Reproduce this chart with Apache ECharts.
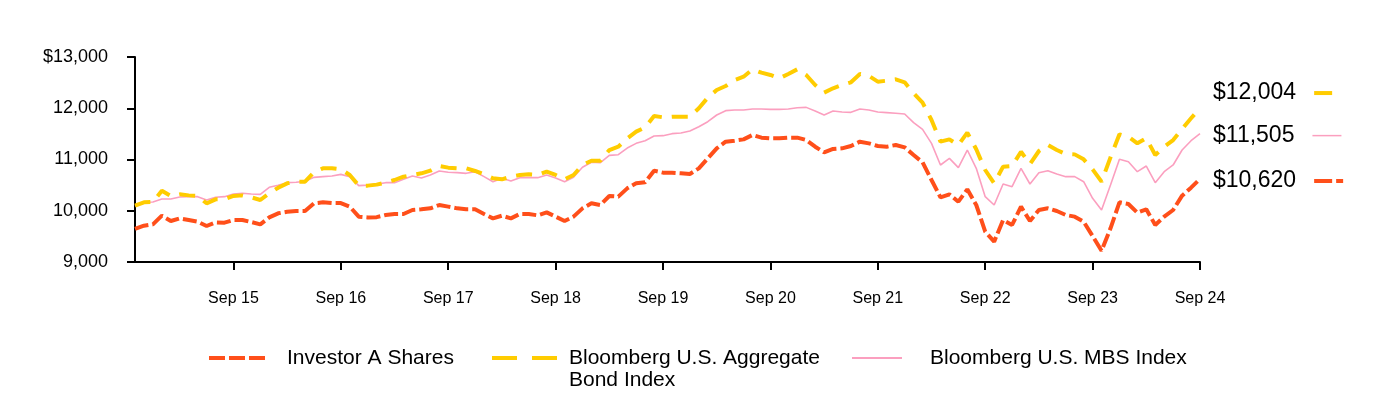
<!DOCTYPE html>
<html>
<head>
<meta charset="utf-8">
<script src="https://cdn.jsdelivr.net/npm/echarts@6/dist/echarts.min.js"></script>
<style>
html,body{margin:0;padding:0;background:#fff;}
#chart{width:1384px;height:400px;}
</style>
</head>
<body>
<div id="chart"></div>
<script>
// ---------- DATA ----------
const monthNames = ['Jan','Feb','Mar','Apr','May','Jun','Jul','Aug','Sep','Oct','Nov','Dec'];
// monthly categories Oct 2014 .. Sep 2024
const categories = [];
for (let y = 2014; y <= 2024; y++) {
  for (let m = 0; m < 12; m++) {
    if ((y === 2014 && m < 9) || (y === 2024 && m > 8)) continue;
    categories.push(monthNames[m] + ' ' + String(y).slice(2));
  }
}
const seriesNames = ['Investor A Shares', 'Bloomberg U.S. Aggregate Bond Index', 'Bloomberg U.S. MBS Index'];

const investorA = [
  9644, 9708, 9735, 9904, 9800, 9852, 9820, 9787, 9702, 9774, 9767, 9820,
  9820, 9780, 9735, 9870, 9950, 9980, 9995, 9995, 10145, 10165, 10150, 10150,
  10080, 9885, 9870, 9875, 9917, 9937, 9937, 10015, 10028, 10047, 10112, 10080,
  10047, 10028, 10028, 9937, 9852, 9904, 9852, 9937, 9937, 9910, 9969, 9885,
  9800, 9885, 10047, 10145, 10112, 10288, 10275, 10437, 10535, 10555, 10782, 10743,
  10743, 10730, 10717, 10828, 11023, 11218, 11348, 11367, 11393, 11478, 11426, 11413,
  11413, 11426, 11426, 11380, 11250, 11140, 11205, 11218, 11263, 11348, 11315, 11263,
  11250, 11283, 11237, 11088, 10945, 10600, 10262, 10320, 10177, 10418, 10112, 9592,
  9397, 9820, 9722, 10080, 9800, 10015, 10047, 9995, 9917, 9885, 9787, 9507,
  9221, 9657, 10165, 10132, 9963, 10028, 9722, 9885, 10015, 10294, 10450, 10620
];
const aggregate = [
  10098, 10165, 10170, 10392, 10288, 10320, 10300, 10290, 10145, 10223, 10223, 10288,
  10300, 10262, 10210, 10340, 10450, 10535, 10567, 10567, 10750, 10828, 10830, 10810,
  10698, 10490, 10490, 10510, 10550, 10600, 10665, 10698, 10730, 10782, 10873, 10841,
  10830, 10830, 10776, 10710, 10633, 10613, 10665, 10698, 10710, 10698, 10762, 10698,
  10613, 10698, 10893, 10977, 10977, 11185, 11250, 11413, 11543, 11628, 11849, 11823,
  11836, 11836, 11836, 11999, 12206, 12356, 12434, 12551, 12616, 12760, 12694, 12649,
  12584, 12668, 12760, 12649, 12454, 12304, 12389, 12454, 12506, 12668, 12630, 12519,
  12538, 12564, 12506, 12291, 12109, 11771, 11348, 11393, 11283, 11523, 11199, 10795,
  10535, 10860, 10873, 11152, 10912, 11166, 11283, 11185, 11107, 11100, 11003, 10808,
  10567, 11042, 11491, 11445, 11315, 11413, 11088, 11250, 11380, 11595, 11804, 12004
];
const mbs = [
  10098, 10165, 10170, 10230, 10230, 10268, 10275, 10275, 10210, 10262, 10275, 10327,
  10340, 10327, 10320, 10457, 10496, 10548, 10555, 10574, 10652, 10665, 10678, 10710,
  10665, 10490, 10500, 10520, 10548, 10548, 10613, 10678, 10639, 10698, 10776, 10750,
  10743, 10730, 10762, 10665, 10567, 10633, 10580, 10646, 10646, 10646, 10698, 10639,
  10567, 10652, 10848, 10945, 10938, 11081, 11094, 11224, 11315, 11367, 11459, 11465,
  11504, 11517, 11556, 11640, 11738, 11868, 11953, 11966, 11966, 11985, 11985, 11979,
  11979, 11985, 12011, 12017, 11946, 11868, 11946, 11927, 11920, 11985, 11966, 11927,
  11914, 11901, 11888, 11719, 11589, 11315, 10893, 11023, 10841, 11185, 10828, 10275,
  10112, 10522, 10470, 10828, 10522, 10743, 10782, 10717, 10665, 10665, 10567, 10242,
  10015, 10502, 11003, 10957, 10762, 10873, 10548, 10762, 10893, 11185, 11367, 11505
];
const yTicks = [9000, 10000, 11000, 12000, 13000];
const yTickLabels = ['9,000', '10,000', '11,000', '12,000', '$13,000'];

// ---------- STYLE ----------
const FONT = '"Liberation Sans", Arial, sans-serif';
const RED = '#FF4F1A';
const YELLOW = '#FFCC00';
const PINK = '#FB9FBF';

const fmtMoney = v => '$' + v.toLocaleString('en-US');
const isSep = (idx) => categories[idx] && categories[idx].startsWith('Sep');

function endLabel(color, kind, offset) {
  const rich = {
    v: { fontSize: 23, fontFamily: FONT, color: '#000', verticalAlign: 'middle' },
    g: { width: 18, verticalAlign: 'middle' },
    g2: { width: 4, verticalAlign: 'middle' },
    m1: { width: 18, height: 4, backgroundColor: color, verticalAlign: 'middle' },
    m2: { width: 7, height: 4, backgroundColor: color, verticalAlign: 'middle' },
    mp: { width: 29, height: 1.5, backgroundColor: color, verticalAlign: 'middle' }
  };
  let tail = '{m1| }';
  if (kind === 'red') tail = '{m1| }{g2| }{m2| }';
  if (kind === 'pink') tail = '{mp| }';
  return {
    show: true,
    distance: 13,
    offset: offset,
    formatter: p => '{v|' + fmtMoney(p.value) + '}{g| }' + tail,
    rich: rich
  };
}

const chart = echarts.init(document.getElementById('chart'), null, { renderer: 'canvas' });

const legendBase = {
  orient: 'horizontal',
  padding: 0,
  itemHeight: 14,
  selectedMode: false,
  itemStyle: { opacity: 0 },
  textStyle: { fontSize: 21, fontFamily: FONT, color: '#000', lineHeight: 22 }
};

const option = {
  animation: false,
  backgroundColor: '#fff',
  grid: { left: 135, right: 184, top: 57, bottom: 138, containLabel: false },
  legend: [
    Object.assign({}, legendBase, {
      data: [seriesNames[0]], left: 207, top: 347, itemWidth: 56,
      lineStyle: { type: [16, 4], width: 4 },
      textStyle: Object.assign({}, legendBase.textStyle, { padding: [0, 0, 0, 17] })
    }),
    Object.assign({}, legendBase, {
      data: [seriesNames[1]], left: 490, top: 325, itemWidth: 65,
      lineStyle: { type: [25, 15], width: 4 },
      formatter: () => ' \nBloomberg U.S. Aggregate\nBond Index',
      textStyle: Object.assign({}, legendBase.textStyle, { padding: [0, 0, 0, 7] })
    }),
    Object.assign({}, legendBase, {
      data: [seriesNames[2]], left: 851, top: 347, itemWidth: 50,
      lineStyle: { width: 2 },
      textStyle: Object.assign({}, legendBase.textStyle, { padding: [0, 0, 0, 23] })
    })
  ],
  xAxis: {
    type: 'category',
    data: categories,
    boundaryGap: false,
    axisLine: { show: true, lineStyle: { color: '#000', width: 2 } },
    axisTick: { show: true, interval: (i) => isSep(i), length: 8, lineStyle: { color: '#000', width: 2 } },
    axisLabel: { interval: (i) => isSep(i), margin: 29, fontSize: 16, fontFamily: FONT, color: '#000' },
    splitLine: { show: false }
  },
  yAxis: {
    type: 'value',
    min: 9000, max: 13000, interval: 1000,
    axisLine: { show: true, lineStyle: { color: '#000', width: 2 } },
    axisTick: { show: true, length: 8, lineStyle: { color: '#000', width: 2 } },
    axisLabel: {
      margin: 27, fontSize: 18, fontFamily: FONT, color: '#000',
      formatter: v => { const k = yTicks.indexOf(v); return k >= 0 ? yTickLabels[k] : ''; }
    },
    splitLine: { show: false }
  },
  series: [
    {
      name: seriesNames[2], type: 'line', data: mbs, symbol: 'none', z: 2,
      lineStyle: { color: PINK, width: 1.6 }, itemStyle: { color: PINK },
      endLabel: endLabel(PINK, 'pink', [0, 2])
    },
    {
      name: seriesNames[1], type: 'line', data: aggregate, symbol: 'none', z: 3,
      lineStyle: { color: YELLOW, width: 4, type: [16, 10] }, itemStyle: { color: YELLOW },
      endLabel: endLabel(YELLOW, 'yellow', [0, -15])
    },
    {
      name: seriesNames[0], type: 'line', data: investorA, symbol: 'none', z: 4,
      lineStyle: { color: RED, width: 4, type: [14, 4] }, itemStyle: { color: RED },
      endLabel: endLabel(RED, 'red', [0, 2])
    }
  ]
};
chart.setOption(option);
</script>
</body>
</html>
